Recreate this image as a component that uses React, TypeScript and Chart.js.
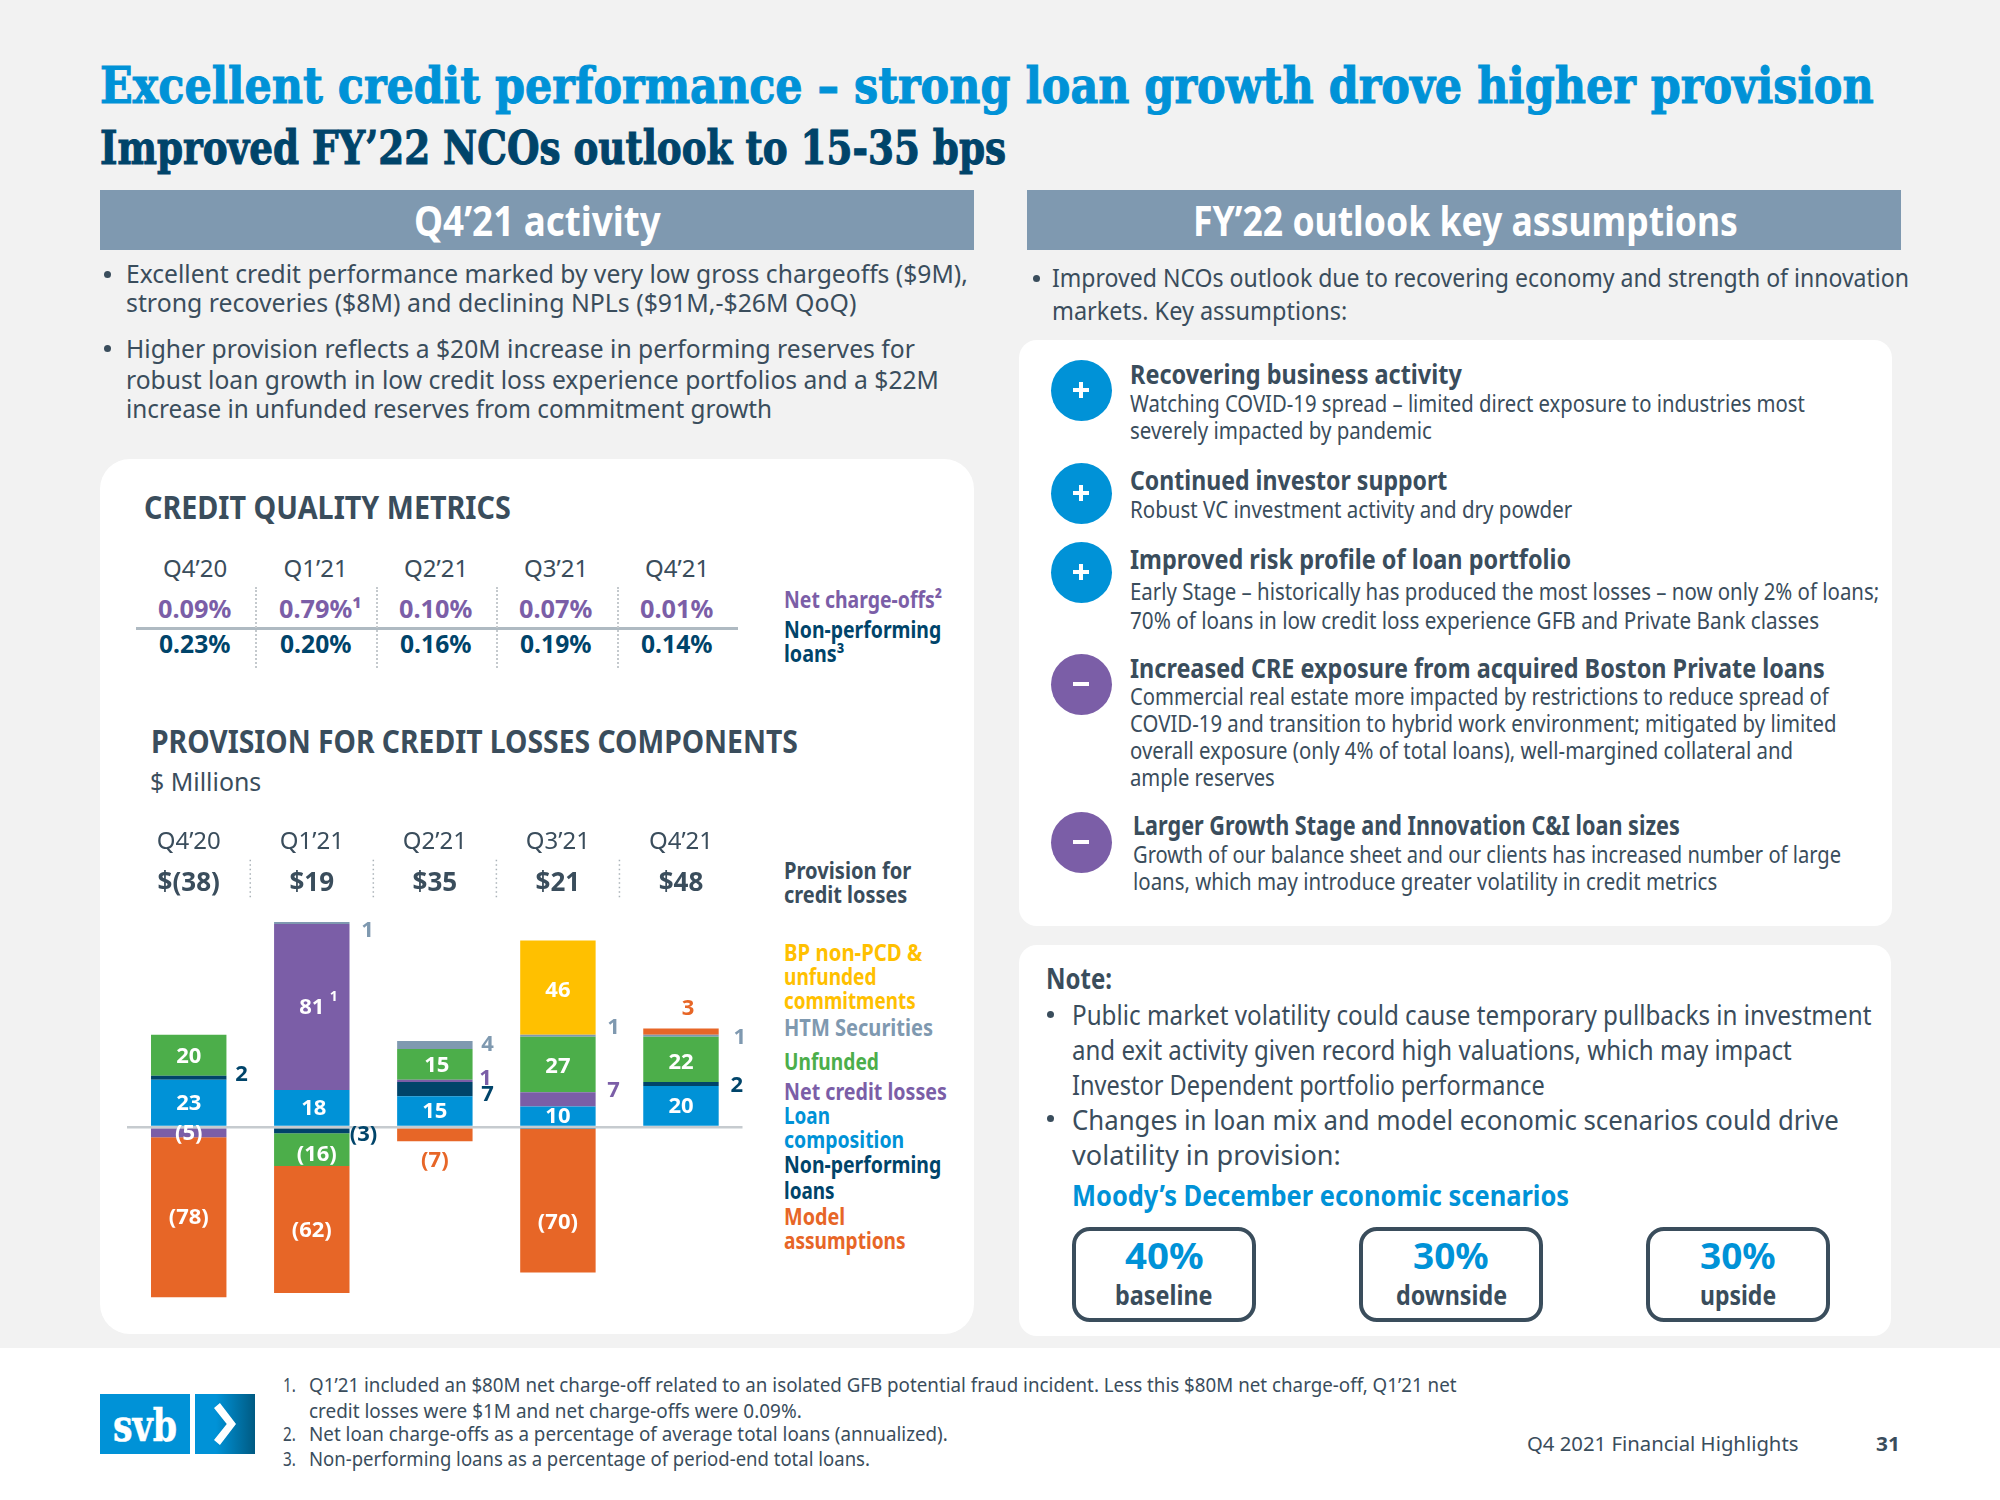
import React, { useEffect, useLayoutEffect, useRef } from "react";
import { Chart, registerables } from "chart.js";

Chart.register(...registerables);

// ---- chart data ----
const categories = ["Q4’20", "Q1’21", "Q2’21", "Q3’21", "Q4’21"];
const provisionTotals = ["$(38)", "$19", "$35", "$21", "$48"];
const loanComposition = [23, 18, 15, 10, 20];
const nonPerformingLoans = [2, -3, 7, -1, 2];
const netCreditLosses = [-5, 81, 1, 7, null];
const unfundedValues = [20, -16, 15, 27, 22];
const htmSecurities = [null, 1, 4, 1, 1];
const modelAssumptions = [-78, -62, -7, -70, 3];
const bpNonPcd = [null, null, null, 46, null];

const netChargeOffs = ["0.09%", "0.79%¹", "0.10%", "0.07%", "0.01%"];
const nonPerformingRatio = ["0.23%", "0.20%", "0.16%", "0.19%", "0.14%"];

// ---- palette ----
const BLUE = "#0092d7";
const NAVY = "#00446a";
const PURPLE = "#7b5ea7";
const GREEN = "#4cae4a";
const GREY_BLUE = "#7f99b0";
const ORANGE = "#e76627";
const GOLD = "#ffc000";
const SLATE = "#3a4d5c";

const SANS = '"Noto Sans", sans-serif';
const SLAB = '"DejaVu Serif", serif';

const seriesDefs = [
  { label: "Loan composition", data: loanComposition, color: BLUE },
  { label: "Non-performing loans", data: nonPerformingLoans, color: NAVY },
  { label: "Net credit losses", data: netCreditLosses, color: PURPLE },
  { label: "Unfunded", data: unfundedValues, color: GREEN },
  { label: "HTM Securities", data: htmSecurities, color: GREY_BLUE },
  { label: "Model assumptions", data: modelAssumptions, color: ORANGE },
  { label: "BP non-PCD & unfunded commitments", data: bpNonPcd, color: GOLD },
];

// Where a value label leaves its default white, centred position. Key: series-category.
const labelPlacement: Record<string, { at?: "right" | "above" | "below" | "none"; dx?: number; dy?: number }> = {
  "1-0": { at: "right", dx: 15, dy: -4 },
  "1-1": { at: "right", dx: 14, dy: 3 },
  "4-1": { at: "right", dx: 18, dy: 7 },
  "4-2": { at: "right", dx: 15, dy: -1 },
  "2-2": { at: "right", dx: 13, dy: -3 },
  "1-2": { at: "right", dx: 15, dy: 5 },
  "4-3": { at: "right", dx: 18, dy: -9 },
  "2-3": { at: "right", dx: 18, dy: -10 },
  "1-3": { at: "none" },
  "4-4": { at: "right", dx: 21, dy: 1 },
  "1-4": { at: "right", dx: 18, dy: 1 },
  "5-4": { at: "above", dx: 7, dy: -20 },
  "5-2": { at: "below", dy: 19 },
  "0-1": { dx: 2 },
  "3-1": { dx: 5, dy: 4 },
  "3-2": { dx: 2 },
  "5-3": { dy: 21 },
  "3-4": { dy: 2 },
  "6-3": { dy: 2 },
  "3-3": { dy: 1 },
};

const formatValue = (v: number) => (v < 0 ? `(${Math.abs(v)})` : `${v}`);

const chartDecorations = {
  id: "chartDecorations",
  afterDraw(chart: any) {
    const { ctx, chartArea, scales } = chart;
    ctx.save();
    // dotted separators between the totals
    ctx.strokeStyle = "#aab2b8";
    ctx.lineWidth = 1.5;
    ctx.setLineDash([1.5, 3]);
    for (let i = 0; i < categories.length - 1; i++) {
      const xm = (scales.x.getPixelForValue(i) + scales.x.getPixelForValue(i + 1)) / 2;
      ctx.beginPath();
      ctx.moveTo(xm, chartArea.top - 52);
      ctx.lineTo(xm, chartArea.top - 12);
      ctx.stroke();
    }
    ctx.setLineDash([]);
    // value labels
    ctx.font = `bold 22px ${SANS}`;
    ctx.textAlign = "center";
    ctx.textBaseline = "middle";
    chart.data.datasets.forEach((ds: any, s: number) => {
      const meta = chart.getDatasetMeta(s);
      ds.data.forEach((v: number | null, c: number) => {
        if (v == null) return;
        const p = labelPlacement[`${s}-${c}`] || {};
        if (p.at === "none") return;
        const bar = meta.data[c].getProps(["x", "y", "base", "width"], true);
        const top = Math.min(bar.y, bar.base);
        const bottom = Math.max(bar.y, bar.base);
        let x = bar.x;
        let y = (top + bottom) / 2 + 1;
        if (p.at === "right") x = bar.x + bar.width / 2;
        if (p.at === "above") y = top;
        if (p.at === "below") y = bottom;
        ctx.fillStyle = p.at ? seriesDefs[s].color : "#ffffff";
        const text = formatValue(v);
        ctx.fillText(text, x + (p.dx || 0), y + (p.dy || 0));
        if (s === 2 && c === 1) {
          ctx.save();
          ctx.font = `bold 14px ${SANS}`;
          ctx.fillText("1", x + 22, y - 11);
          ctx.restore();
        }
      });
    });
    ctx.restore();
  },
};

function ProvisionChart() {
  const ref = useRef<HTMLCanvasElement>(null);
  useEffect(() => {
    const chart = new Chart(ref.current as any, {
      type: "bar",
      data: {
        labels: categories,
        datasets: seriesDefs.map((d) => ({
          label: d.label,
          data: d.data as any,
          backgroundColor: d.color,
          borderWidth: 0,
          stack: "provision",
          barPercentage: 0.613,
          categoryPercentage: 1,
        })),
      },
      options: {
        animation: false,
        responsive: false,
        devicePixelRatio: 1,
        layout: { padding: { left: 27.2, right: 217.5, top: 0, bottom: 8.5 } },
        plugins: { legend: { display: false }, tooltip: { enabled: false } },
        scales: {
          x: {
            type: "category",
            position: "top",
            stacked: true,
            weight: 2,
            grid: { display: false },
            border: { display: false },
            ticks: {
              autoSkip: false,
              maxRotation: 0,
              padding: 1,
              color: SLATE,
              font: { family: "Noto Sans", size: 24 },
            },
            afterFit: (s: any) => {
              s.height = 46;
            },
          },
          totals: {
            type: "category",
            position: "top",
            labels: provisionTotals,
            weight: 1,
            offset: true,
            grid: { display: false },
            border: { display: false },
            ticks: {
              autoSkip: false,
              maxRotation: 0,
              padding: 5,
              color: SLATE,
              font: { family: "Noto Sans", size: 26, weight: "bold" },
            },
            afterFit: (s: any) => {
              s.height = 45.75;
            },
          },
          y: {
            stacked: true,
            min: -90,
            max: 105,
            border: { display: false },
            ticks: { display: false, stepSize: 15 },
            grid: {
              z: 1,
              drawTicks: false,
              lineWidth: (c: any) => (c.tick && c.tick.value === 0 ? 2.5 : 0),
              color: (c: any) => (c.tick && c.tick.value === 0 ? "#c6cbcf" : "rgba(0,0,0,0)"),
            },
          },
        },
      } as any,
      plugins: [chartDecorations as any],
    });
    return () => chart.destroy();
  }, []);
  return (
    <canvas
      ref={ref}
      width={860}
      height={500}
      style={{ position: "absolute", left: 100, top: 820, width: 860, height: 500, display: "block" }}
    />
  );
}

// ---- slide text helpers ----
type TextProps = {
  t: string;
  x: number;
  x2: number;
  y: number;
  size: number;
  color?: string;
  bold?: boolean;
  font?: string;
};

function Fit({ t, x, x2, y, size, color = SLATE, bold = false, font = SANS }: TextProps) {
  const ref = useRef<HTMLDivElement>(null);
  useLayoutEffect(() => {
    const el = ref.current as HTMLDivElement;
    const k = (x2 - x) / el.offsetWidth;
    el.style.transform = `translateY(-50%) scaleX(${k})`;
  }, [t, x, x2]);
  const lift = font === SANS && size > 20 ? 1.5 : 0;
  const extra: any = font === SLAB ? { WebkitTextStroke: `${size > 45 ? 1.1 : 0.5}px ${color}` } : {};
  return (
    <div
      ref={ref}
      style={{
        position: "absolute",
        left: x,
        top: y - lift,
        fontFamily: font,
        fontSize: size,
        fontWeight: bold ? 700 : 400,
        color,
        lineHeight: 1,
        whiteSpace: "nowrap",
        transformOrigin: "left center",
        transform: "translateY(-50%)",
        ...extra,
      }}
    >
      {t}
    </div>
  );
}

const Rect = ({ x, y, w, h, bg, r = 0 }: any) => (
  <div style={{ position: "absolute", left: x, top: y, width: w, height: h, background: bg, borderRadius: r }} />
);

const Dot = ({ x, y, size = 7 }: any) => (
  <div
    style={{
      position: "absolute",
      left: x - size / 2,
      top: y - size / 2,
      width: size,
      height: size,
      borderRadius: "50%",
      background: SLATE,
    }}
  />
);

const Badge = ({ cy, bg, sign, cx = 1081 }: any) => (
  <div style={{ position: "absolute", left: cx - 30.5, top: cy - 30.5, width: 61, height: 61, borderRadius: "50%", background: bg }}>
    <div style={{ position: "absolute", left: 22.5, top: 28.5, width: 16, height: 4, background: "#fff" }} />
    {sign === "+" && <div style={{ position: "absolute", left: 28.5, top: 22.5, width: 4, height: 16, background: "#fff" }} />}
  </div>
);

const VDots = ({ x, y1, y2 }: any) => (
  <div style={{ position: "absolute", left: x, top: y1, height: y2 - y1, borderLeft: "2px dotted #c4c9cd" }} />
);

const ScenarioBox = ({ x, pct, pctW, name, nameW }: any) => (
  <>
    <div
      style={{
        position: "absolute",
        left: x,
        top: 1227,
        width: 184,
        height: 95,
        boxSizing: "border-box",
        border: `4px solid ${SLATE}`,
        borderRadius: 18,
      }}
    />
    <Fit t={pct} x={x + 92 - pctW / 2} x2={x + 92 + pctW / 2} y={1257} size={36} color={BLUE} bold />
    <Fit t={name} x={x + 92 - nameW / 2} x2={x + 92 + nameW / 2} y={1296} size={26} bold />
  </>
);

const tableCenters = [195, 315.5, 436, 556, 677];

const slideLines: TextProps[] = [
  { t: "Excellent credit performance – strong loan growth drove higher provision", x: 100, x2: 1874, y: 85, size: 51, color: BLUE, bold: true, font: SLAB },
  { t: "Improved FY’22 NCOs outlook to 15-35 bps", x: 100, x2: 1006, y: 148, size: 46, color: NAVY, bold: true, font: SLAB },
  { t: "Q4’21 activity", x: 414, x2: 661, y: 221, size: 42, color: "#fff", bold: true },
  { t: "FY’22 outlook key assumptions", x: 1193, x2: 1738, y: 221, size: 42, color: "#fff", bold: true },

  { t: "Excellent credit performance marked by very low gross chargeoffs ($9M),", x: 126, x2: 968, y: 274, size: 26 },
  { t: "strong recoveries ($8M) and declining NPLs ($91M,-$26M QoQ)", x: 126, x2: 856, y: 303, size: 26 },
  { t: "Higher provision reflects a $20M increase in performing reserves for", x: 126, x2: 915, y: 349, size: 26 },
  { t: "robust loan growth in low credit loss experience portfolios and a $22M", x: 126, x2: 939, y: 380, size: 26 },
  { t: "increase in unfunded reserves from commitment growth", x: 126, x2: 772, y: 409, size: 26 },

  { t: "CREDIT QUALITY METRICS", x: 144, x2: 511, y: 508, size: 32, bold: true },
  { t: "Net charge-offs²", x: 784, x2: 942, y: 600, size: 23, color: PURPLE, bold: true },
  { t: "Non-performing", x: 784, x2: 941, y: 630, size: 23, color: NAVY, bold: true },
  { t: "loans³", x: 784, x2: 844, y: 654, size: 23, color: NAVY, bold: true },
  { t: "PROVISION FOR CREDIT LOSSES COMPONENTS", x: 150.5, x2: 797, y: 742, size: 32, bold: true },
  { t: "$ Millions", x: 150, x2: 261, y: 782, size: 26 },

  { t: "Provision for", x: 784, x2: 911, y: 871, size: 23, bold: true },
  { t: "credit losses", x: 784, x2: 907, y: 895, size: 23, bold: true },
  { t: "BP non-PCD &", x: 784, x2: 922, y: 953, size: 23, color: GOLD, bold: true },
  { t: "unfunded", x: 784, x2: 877, y: 977, size: 23, color: GOLD, bold: true },
  { t: "commitments", x: 784, x2: 916, y: 1001, size: 23, color: GOLD, bold: true },
  { t: "HTM Securities", x: 784, x2: 933, y: 1028, size: 23, color: GREY_BLUE, bold: true },
  { t: "Unfunded", x: 784, x2: 879, y: 1062, size: 23, color: GREEN, bold: true },
  { t: "Net credit losses", x: 784, x2: 947, y: 1092, size: 23, color: PURPLE, bold: true },
  { t: "Loan", x: 784, x2: 830, y: 1116, size: 23, color: BLUE, bold: true },
  { t: "composition", x: 784, x2: 904, y: 1140, size: 23, color: BLUE, bold: true },
  { t: "Non-performing", x: 784, x2: 941, y: 1165, size: 23, color: NAVY, bold: true },
  { t: "loans", x: 784, x2: 835, y: 1191, size: 23, color: NAVY, bold: true },
  { t: "Model", x: 784, x2: 845, y: 1217, size: 23, color: ORANGE, bold: true },
  { t: "assumptions", x: 784, x2: 906, y: 1241, size: 23, color: ORANGE, bold: true },

  { t: "Improved NCOs outlook due to recovering economy and strength of innovation", x: 1052, x2: 1909, y: 278, size: 26 },
  { t: "markets. Key assumptions:", x: 1052, x2: 1347, y: 311, size: 26 },

  { t: "Recovering business activity", x: 1130, x2: 1462, y: 375, size: 26, bold: true },
  { t: "Watching COVID-19 spread – limited direct exposure to industries most", x: 1130, x2: 1805, y: 404, size: 24 },
  { t: "severely impacted by pandemic", x: 1130, x2: 1432, y: 431, size: 24 },
  { t: "Continued investor support", x: 1130, x2: 1447, y: 481, size: 26, bold: true },
  { t: "Robust VC investment activity and dry powder", x: 1130, x2: 1572, y: 510, size: 24 },
  { t: "Improved risk profile of loan portfolio", x: 1130, x2: 1571, y: 560, size: 26, bold: true },
  { t: "Early Stage – historically has produced the most losses – now only 2% of loans;", x: 1130, x2: 1879, y: 592, size: 24 },
  { t: "70% of loans in low credit loss experience GFB and Private Bank classes", x: 1130, x2: 1819, y: 621, size: 24 },
  { t: "Increased CRE exposure from acquired Boston Private loans", x: 1130, x2: 1825, y: 669, size: 26, bold: true },
  { t: "Commercial real estate more impacted by restrictions to reduce spread of", x: 1130, x2: 1829, y: 697, size: 24 },
  { t: "COVID-19 and transition to hybrid work environment; mitigated by limited", x: 1130, x2: 1837, y: 724, size: 24 },
  { t: "overall exposure (only 4% of total loans), well-margined collateral and", x: 1130, x2: 1793, y: 751, size: 24 },
  { t: "ample reserves", x: 1130, x2: 1275, y: 778, size: 24 },
  { t: "Larger Growth Stage and Innovation C&I loan sizes", x: 1133, x2: 1680, y: 826, size: 26, bold: true },
  { t: "Growth of our balance sheet and our clients has increased number of large", x: 1133, x2: 1841, y: 855, size: 24 },
  { t: "loans, which may introduce greater volatility in credit metrics", x: 1133, x2: 1717, y: 882, size: 24 },

  { t: "Note:", x: 1046, x2: 1112, y: 979, size: 28, bold: true },
  { t: "Public market volatility could cause temporary pullbacks in investment", x: 1072, x2: 1871, y: 1015, size: 28 },
  { t: "and exit activity given record high valuations, which may impact", x: 1072, x2: 1792, y: 1050, size: 28 },
  { t: "Investor Dependent portfolio performance", x: 1072, x2: 1545, y: 1085, size: 28 },
  { t: "Changes in loan mix and model economic scenarios could drive", x: 1072, x2: 1839, y: 1120, size: 28 },
  { t: "volatility in provision:", x: 1072, x2: 1341, y: 1155, size: 28 },
  { t: "Moody’s December economic scenarios", x: 1072, x2: 1569, y: 1196, size: 28, color: BLUE, bold: true },

  { t: "1.", x: 283, x2: 296, y: 1385, size: 20 },
  { t: "Q1’21 included an $80M net charge-off related to an isolated GFB potential fraud incident. Less this $80M net charge-off, Q1’21 net", x: 309, x2: 1457, y: 1385, size: 20 },
  { t: "credit losses were $1M and net charge-offs were 0.09%.", x: 309, x2: 802, y: 1411, size: 20 },
  { t: "2.", x: 283, x2: 296, y: 1434, size: 20 },
  { t: "Net loan charge-offs as a percentage of average total loans (annualized).", x: 309, x2: 948, y: 1434, size: 20 },
  { t: "3.", x: 283, x2: 296, y: 1459, size: 20 },
  { t: "Non-performing loans as a percentage of period-end total loans.", x: 309, x2: 870, y: 1459, size: 20 },
  { t: "Q4 2021 Financial Highlights", x: 1527, x2: 1798, y: 1444, size: 20 },
  { t: "31", x: 1876, x2: 1900, y: 1444, size: 20, bold: true },
];

export default function App() {
  return (
    <div style={{ position: "absolute", left: 0, top: 0, width: 2000, height: 1500, overflow: "hidden", background: "#ffffff" }}>
      <Rect x={0} y={0} w={2000} h={1348} bg="#f2f2f2" />
      <Rect x={100} y={190} w={874} h={60} bg={GREY_BLUE} />
      <Rect x={1027} y={190} w={874} h={60} bg={GREY_BLUE} />
      <Rect x={100} y={459} w={874} h={875} bg="#fff" r={30} />
      <Rect x={1019} y={340} w={873} h={586} bg="#fff" r={18} />
      <Rect x={1019} y={945} w={872} h={391} bg="#fff" r={18} />

      <Dot x={107} y={274} />
      <Dot x={107} y={348} />
      <Dot x={1036} y={278} />
      <Dot x={1050} y={1014} />
      <Dot x={1050} y={1118} />

      <Badge cy={390} bg={BLUE} sign="+" />
      <Badge cy={493} bg={BLUE} sign="+" />
      <Badge cy={572} bg={BLUE} sign="+" />
      <Badge cy={684} bg={PURPLE} sign="-" />
      <Badge cy={842} bg={PURPLE} sign="-" />

      {/* credit quality table */}
      <Rect x={136} y={627} w={602} h={3} bg="#afbac2" />
      {[255, 376, 496, 617].map((x) => (
        <VDots key={x} x={x} y1={587} y2={668} />
      ))}
      {categories.map((q, i) => (
        <Fit key={q} t={q} x={tableCenters[i] - 32} x2={tableCenters[i] + 32} y={569} size={24} />
      ))}
      {netChargeOffs.map((v, i) => {
        const w = v.length > 5 ? 83 : 73;
        const left = tableCenters[i] - 37;
        return <Fit key={i} t={v} x={left} x2={left + w} y={609} size={25} color={PURPLE} bold />;
      })}
      {nonPerformingRatio.map((v, i) => (
        <Fit key={i} t={v} x={tableCenters[i] - 36} x2={tableCenters[i] + 35} y={644} size={25} color={NAVY} bold />
      ))}

      {slideLines.map((l, i) => (
        <Fit key={i} {...l} />
      ))}

      <ScenarioBox x={1072} pct="40%" pctW={79} name="baseline" nameW={98} />
      <ScenarioBox x={1359} pct="30%" pctW={76} name="downside" nameW={111} />
      <ScenarioBox x={1646} pct="30%" pctW={76} name="upside" nameW={76} />

      {/* logo */}
      <Rect x={100} y={1394} w={90} h={60} bg={BLUE} />
      <Rect x={195} y={1394} w={60} h={60} bg={`linear-gradient(90deg, ${BLUE} 35%, #005a82 100%)`} />
      <Fit t="svb" x={113} x2={177} y={1426} size={44} color="#fff" bold font={SLAB} />
      <div
        style={{
          position: "absolute",
          left: 214,
          top: 1403,
          width: 22,
          height: 42,
          background: "#fff",
          clipPath: "polygon(0 12%, 27% 0, 100% 50%, 27% 100%, 0 88%, 58% 50%)",
        }}
      />

      <ProvisionChart />
    </div>
  );
}
